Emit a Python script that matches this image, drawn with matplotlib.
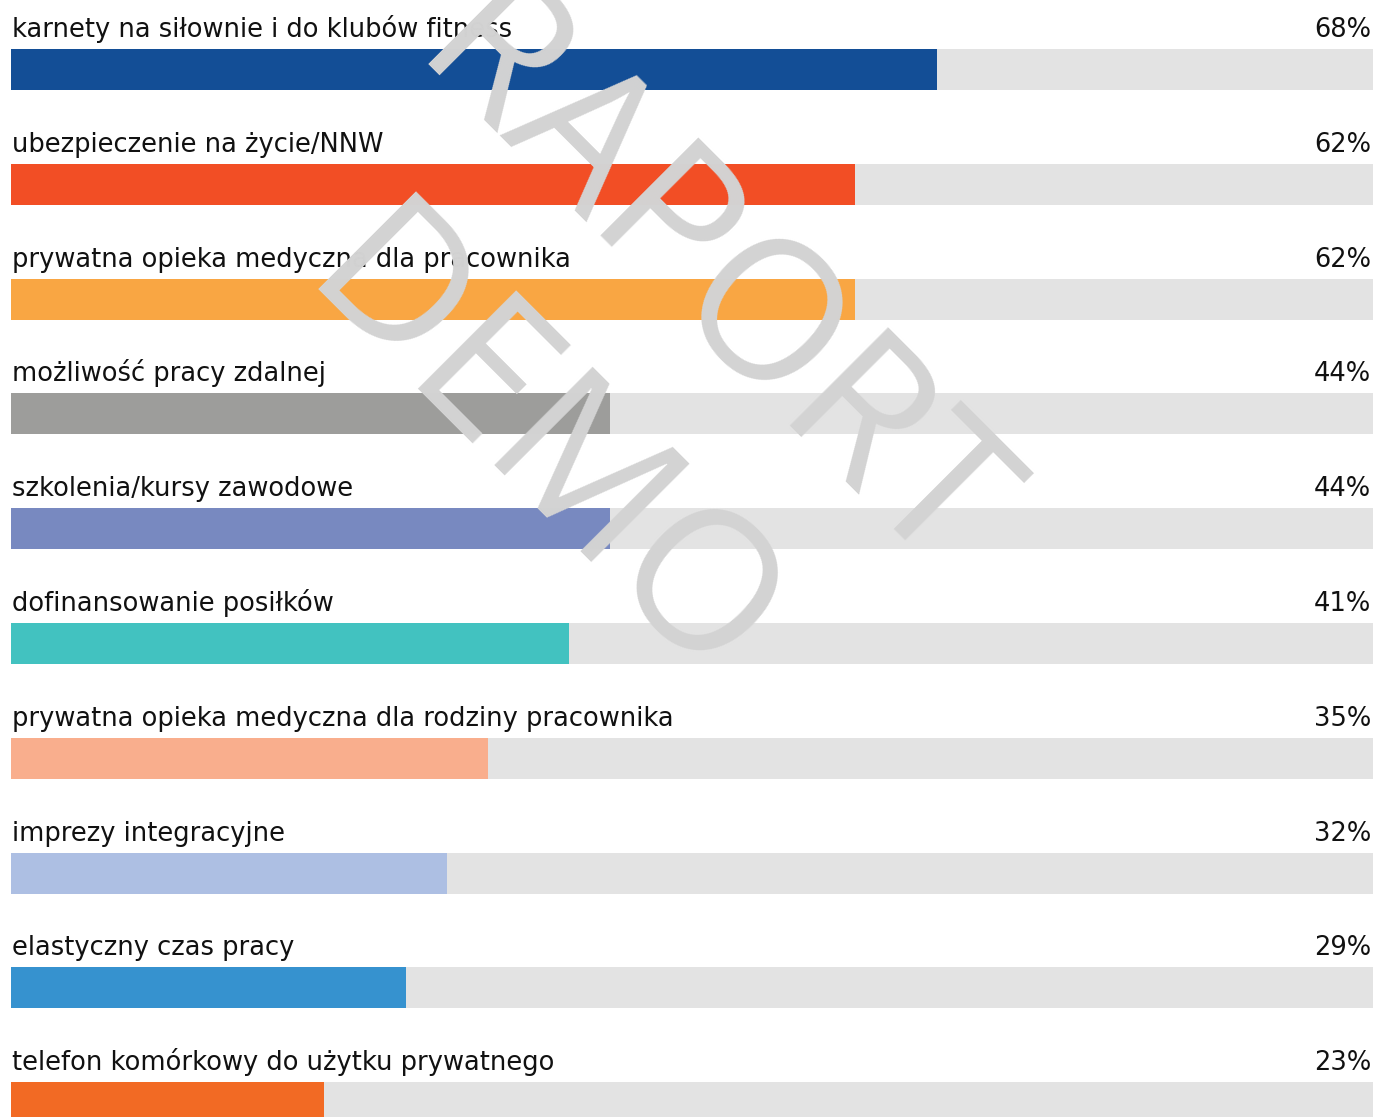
import matplotlib
matplotlib.use("Agg")
import matplotlib.pyplot as plt

categories = [
    "karnety na siłownie i do klubów fitness",
    "ubezpieczenie na życie/NNW",
    "prywatna opieka medyczna dla pracownika",
    "możliwość pracy zdalnej",
    "szkolenia/kursy zawodowe",
    "dofinansowanie posiłków",
    "prywatna opieka medyczna dla rodziny pracownika",
    "imprezy integracyjne",
    "elastyczny czas pracy",
    "telefon komórkowy do użytku prywatnego",
]
values = [68, 62, 62, 44, 44, 41, 35, 32, 29, 23]
value_labels = ["68%", "62%", "62%", "44%", "44%", "41%", "35%", "32%", "29%", "23%"]
colors = ["#134e96", "#f24e25", "#f9a643", "#9d9d9b", "#7889c0",
          "#42c2c0", "#f9ae8d", "#adbfe3", "#3692cf", "#f26a24"]

W, H = 1375, 1117
fig = plt.figure(figsize=(W / 100, H / 100), dpi=100)
ax = fig.add_axes([0, 0, 1, 1])
ax.set_xlim(-11 / 13.62, 100 + 2 / 13.62)
ax.set_ylim(H, 0)
ax.axis("off")

row_h = 114.8
bar_top0 = 49
bar_h = 41
for i, (cat, v, lab, c) in enumerate(zip(categories, values, value_labels, colors)):
    top = bar_top0 + row_h * i
    ax.barh(top, 100, height=bar_h, left=0, align="edge", color="#e3e3e3", zorder=1)
    ax.barh(top, v, height=bar_h, left=0, align="edge", color=c, zorder=2)
    ax.text(0.05, top - 12, cat, ha="left", va="baseline", fontsize=18.5,
            color="#111111", family="DejaVu Sans", zorder=3)
    ax.text(99.85, top - 12, lab, ha="right", va="baseline", fontsize=18.5,
            color="#111111", family="DejaVu Sans", zorder=3)

# watermark
wm_kw = dict(rotation=-45, rotation_mode="anchor", ha="center", va="center",
             fontsize=140, color="#d3d3d3", family="Open Sans", zorder=10)
fig.text(705 / W, 1 - 289 / H, "RAPORT", **wm_kw)
fig.text(538 / W, 1 - 456 / H, "DEMO", **wm_kw)

fig.savefig("out.png", dpi=100)
